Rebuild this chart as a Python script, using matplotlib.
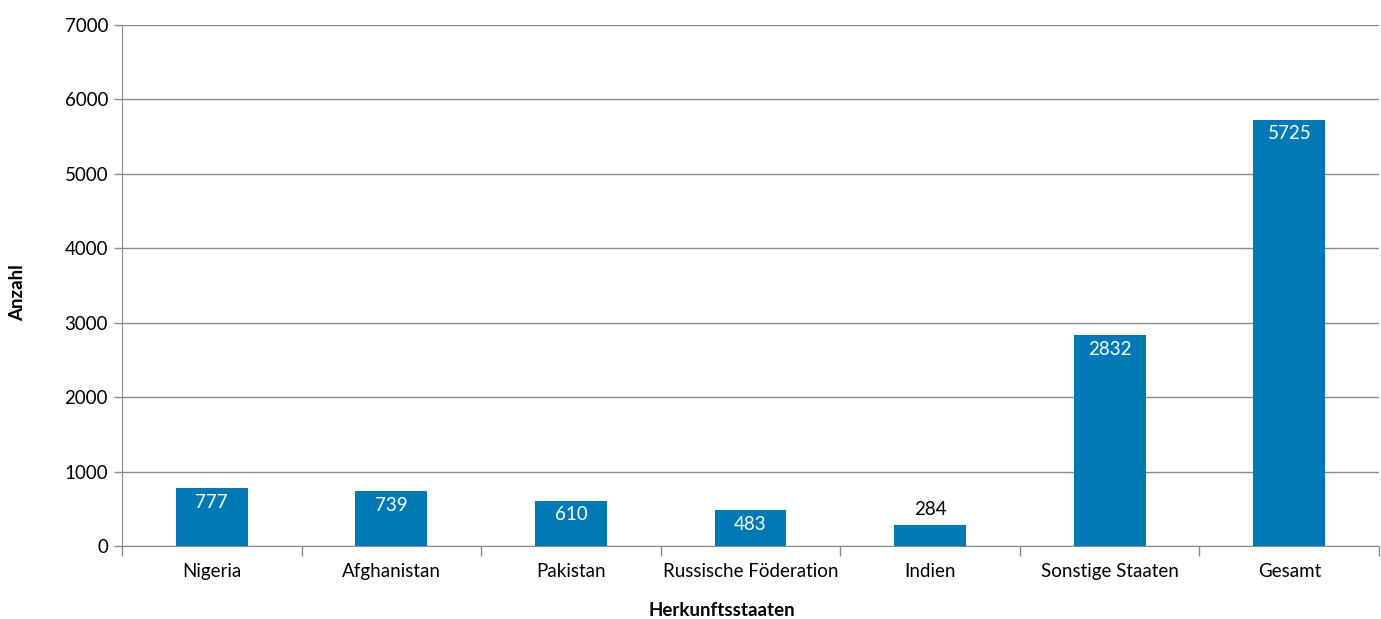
import matplotlib.pyplot as plt
import numpy as np

plt.rcParams['font.family'] = ['Lato', 'DejaVu Sans']

categories = ["Nigeria", "Afghanistan", "Pakistan", "Russische Föderation",
              "Indien", "Sonstige Staaten", "Gesamt"]
values = [777, 739, 610, 483, 284, 2832, 5725]
yticks = [0, 1000, 2000, 3000, 4000, 5000, 6000, 7000]

bar_color = '#007ab7'
line_color = '#8a8a8a'
fs = 13.5

fig = plt.figure(figsize=(13.81, 6.19), dpi=100)
ax = fig.add_axes([0.0883, 0.1179, 0.9103, 0.8417])

x = np.arange(len(categories))
bars = ax.bar(x, values, width=0.4, color=bar_color, zorder=3)

# value labels: inside the bar in white, above it when the bar is too short
for b, v in zip(bars, values):
    cx = b.get_x() + b.get_width() / 2
    if v < 400:
        ax.annotate(str(v), (cx, v), xytext=(0, 5), textcoords='offset points',
                    ha='center', va='bottom', fontsize=fs, color='black', zorder=4)
    else:
        ax.annotate(str(v), (cx, v), xytext=(0, -4), textcoords='offset points',
                    ha='center', va='top', fontsize=fs, color='white', zorder=4)

ax.set_xlim(-0.5, len(categories) - 0.5)
ax.set_ylim(0, 7000)
ax.set_yticks(yticks)
ax.set_yticklabels([str(t) for t in yticks], fontsize=fs)
ax.yaxis.grid(True, color=line_color, linewidth=1, zorder=0)

# category labels centred, tick marks on the boundaries
ax.set_xticks(x)
ax.set_xticklabels(categories, fontsize=fs)
ax.tick_params(axis='x', length=0, pad=12)
ax.set_xticks(np.arange(-0.5, len(categories)), minor=True)
ax.tick_params(axis='x', which='minor', length=7, color=line_color, width=1)
ax.tick_params(axis='y', length=6, color=line_color, width=1, pad=4)

for side in ['top', 'right']:
    ax.spines[side].set_visible(False)
ax.spines['left'].set_color(line_color)
ax.spines['bottom'].set_color(line_color)

ax.set_ylabel("Anzahl", fontsize=fs, fontweight='bold')
ax.set_xlabel("Herkunftsstaaten", fontsize=fs, fontweight='bold')
ax.yaxis.set_label_coords(-0.0765, 0.486)
ax.xaxis.set_label_coords(0.477, -0.108)

fig.savefig("out.png", dpi=100)
